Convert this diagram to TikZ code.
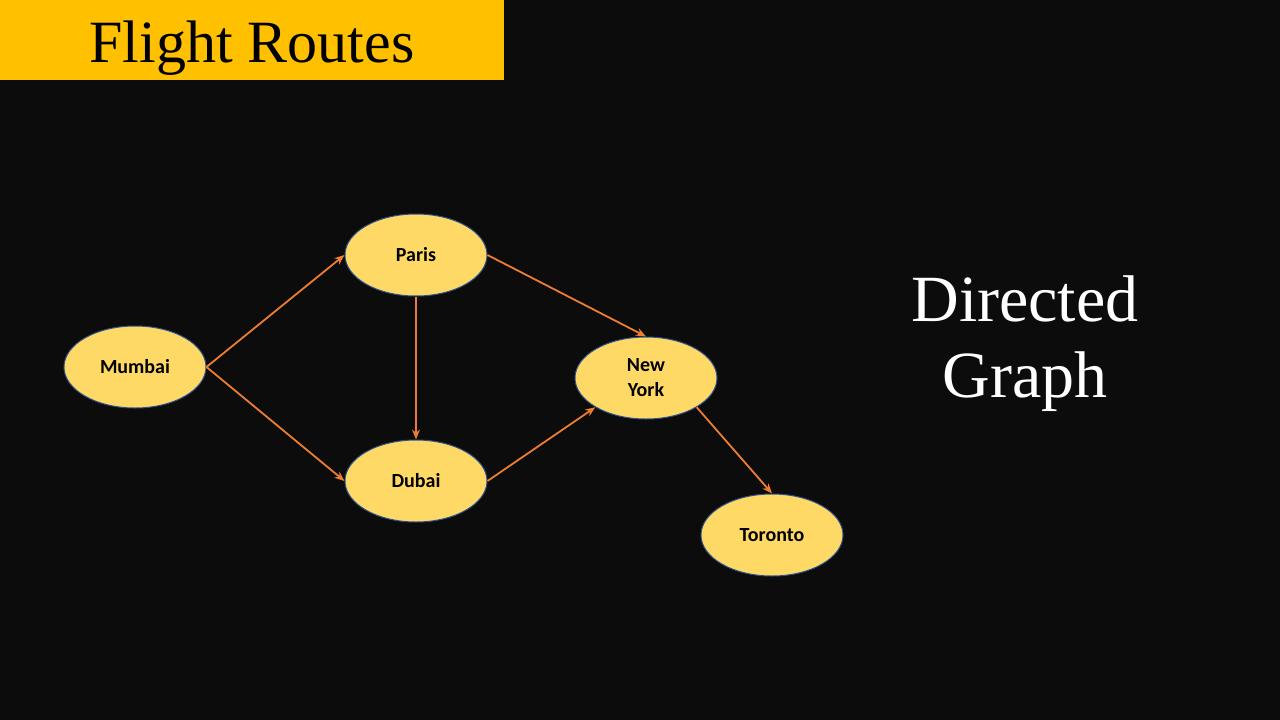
\documentclass[tikz,border=0pt]{standalone}
\usepackage{fontspec}
\setmainfont{Liberation Serif}
\newfontfamily\labfont{Carlito}
\usetikzlibrary{shapes.geometric,arrows.meta}
\definecolor{bgc}{RGB}{12,12,12}
\definecolor{titlebar}{RGB}{255,192,0}
\definecolor{cityfill}{RGB}{255,217,102}
\definecolor{cityline}{RGB}{47,82,143}
\definecolor{route}{RGB}{237,125,49}
\tikzset{
  city/.style={ellipse, draw=cityline, line width=1pt, fill=cityfill,
    minimum width=142pt, minimum height=82pt, inner sep=0pt,
    font=\labfont\bfseries\fontsize{20}{25}\selectfont, text=black, align=center},
  flight/.style={draw=route, line width=1.8pt, -{Stealth[length=10pt,width=8pt]}}
}
\begin{document}
\begin{tikzpicture}[x=1pt,y=-1pt]
\fill[bgc] (0,0) rectangle (1280,720);
\useasboundingbox (0,0) rectangle (1280,720);
\fill[titlebar] (0,0) rectangle (504,80);
\node[anchor=base, inner sep=0pt, font=\fontsize{60}{72}\selectfont, text=black] (title) at (252,62.5) {Flight Routes};
\node[anchor=base, inner sep=0pt, font=\fontsize{66}{75}\selectfont, text=white] (dg1) at (1025,321.5) {Directed};
\node[anchor=base, inner sep=0pt, font=\fontsize{66}{75}\selectfont, text=white] (dg2) at (1025,397) {Graph};

\node[city] (mumbai) at (135,367) {Mumbai};
\node[city] (paris) at (416,255) {Paris};
\node[city] (dubai) at (416,481) {Dubai};
\node[city] (ny) at (646,378) {New\\York};
\node[city] (toronto) at (772,535) {Toronto};

\draw[flight] (mumbai.east) -- (paris.west);
\draw[flight] (mumbai.east) -- (dubai.west);
\draw[flight] (paris.south) -- (dubai.north);
\draw[flight] (paris.east) -- (ny.north);
\draw[flight] (dubai.east) -- (ny.210);
\draw[flight] (ny.-30) -- (toronto.north);
\end{tikzpicture}
\end{document}
